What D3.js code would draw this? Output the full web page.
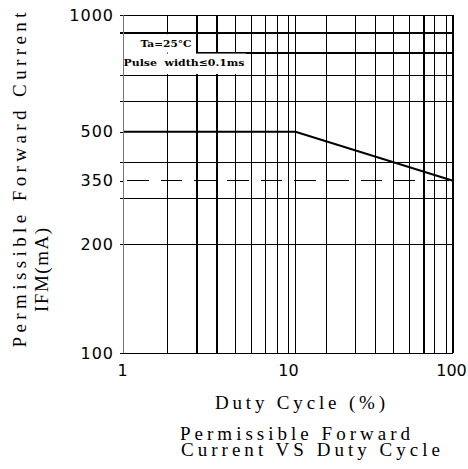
<!DOCTYPE html>
<html>
<head>
    <meta charset="utf-8">
    <title>Permissible Forward Current VS Duty Cycle</title>
    <script src="https://d3js.org/d3.v7.min.js"></script>
    <style>
        body {
            margin: 0;
            background: #fff;
        }

        .grid line {
            stroke: #000;
            stroke-width: 1;
            shape-rendering: crispEdges;
        }

        .grid line.thick {
            stroke-width: 2;
        }

        .axis path {
            display: none;
        }

        .axis line {
            stroke: #000;
            shape-rendering: crispEdges;
        }

        .axis text {
            font-family: "DejaVu Sans", sans-serif;
            font-size: 16px;
            fill: #000;
        }

        .axis.y text {
            letter-spacing: 1px;
        }

        .curve {
            fill: none;
            stroke: #000;
            stroke-width: 2;
        }

        .dash {
            stroke: #000;
            stroke-width: 1;
            stroke-dasharray: 21.7, 11.6;
            stroke-dashoffset: -4.4;
            shape-rendering: crispEdges;
        }

        .label {
            font-family: "Liberation Serif", serif;
            font-size: 19px;
            fill: #000;
        }

        .note {
            font-family: "DejaVu Serif", serif;
            font-size: 10px;
            font-weight: bold;
            fill: #000;
        }
    </style>
</head>
<body>
    <div id="chart"></div>

    <script>
        // values
        const xTicks = [1, 10, 100];
        const yTicks = [100, 200, 350, 500, 1000];
        const xGrid = [1.86, 2.8, 3.7, 4.8, 6.05, 7.35, 8.6, 10, 11.1, 17, 25.6, 33.8, 43.4, 54.3, 66.5, 76.8, 91.2];
        const xGridThick = [2.8, 3.7, 66.5];
        const yGrid = [200, 300, 400, 600, 700, 900];
        const yGridThick = [900];
        const curveDuty = [1, 11.1, 100];
        const curveCurrent = [500, 500, 350];
        const dashLevel = 350;

        const width = 468;
        const height = 469;
        const margin = {top: 15, right: 15, bottom: 116, left: 123};
        const innerWidth = width - margin.left - margin.right;
        const innerHeight = height - margin.top - margin.bottom;

        const svg = d3.select("#chart").append("svg")
            .attr("width", width)
            .attr("height", height);

        const g = svg.append("g")
            .attr("transform", `translate(${margin.left},${margin.top})`);

        const x = d3.scaleLog()
            .domain([1, 100])
            .range([0, innerWidth]);

        // the printed current axis is not evenly logarithmic, so map it piecewise
        const y = d3.scaleLog()
            .domain(yTicks)
            .range([innerHeight, innerHeight * 0.6784, innerHeight * 0.4902, innerHeight * 0.3453, 0]);

        // Grid
        const grid = g.append("g").attr("class", "grid");

        grid.selectAll(".vline")
            .data(xGrid)
            .enter()
            .append("line")
            .attr("class", d => xGridThick.includes(d) ? "vline thick" : "vline")
            .attr("x1", d => x(d))
            .attr("x2", d => x(d))
            .attr("y1", 0)
            .attr("y2", innerHeight);

        grid.selectAll(".hline")
            .data(yGrid)
            .enter()
            .append("line")
            .attr("class", d => yGridThick.includes(d) ? "hline thick" : "hline")
            .attr("x1", -3)
            .attr("x2", innerWidth)
            .attr("y1", d => y(d))
            .attr("y2", d => y(d));

        // ledge under the Ta box
        grid.append("line")
            .attr("class", "thick")
            .attr("x1", x(2.8))
            .attr("x2", innerWidth)
            .attr("y1", y(800))
            .attr("y2", y(800));

        // blank the note area
        g.append("rect")
            .attr("x", 1)
            .attr("y", y(900) + 1.5)
            .attr("width", x(2.8) - 2)
            .attr("height", y(800) - y(900) - 1.5)
            .attr("fill", "#fff");

        g.append("rect")
            .attr("x", 1)
            .attr("y", y(800) + 1)
            .attr("width", x(5.5))
            .attr("height", y(700) - y(800) - 2)
            .attr("fill", "#fff");

        grid.append("line")
            .attr("class", "thick")
            .attr("x1", x(3.7))
            .attr("x2", x(3.7))
            .attr("y1", 0)
            .attr("y2", innerHeight);

        g.append("text")
            .attr("class", "note")
            .attr("x", 17.5)
            .attr("y", 31.5)
            .attr("textLength", 51)
            .attr("lengthAdjust", "spacingAndGlyphs")
            .text("Ta=25°C");

        g.append("text")
            .attr("class", "note")
            .attr("x", 0.5)
            .attr("y", 50.5)
            .attr("textLength", 121)
            .attr("lengthAdjust", "spacingAndGlyphs")
            .attr("xml:space", "preserve")
            .text("Pulse  width≤0.1ms");

        // 350 mA reference
        g.append("line")
            .attr("class", "dash")
            .attr("x1", x(1))
            .attr("x2", x(100))
            .attr("y1", y(dashLevel))
            .attr("y2", y(dashLevel));

        // derating curve
        const line = d3.line()
            .x(d => x(d[0]))
            .y(d => y(d[1]));

        g.append("path")
            .datum(d3.zip(curveDuty, curveCurrent))
            .attr("class", "curve")
            .attr("d", line);

        // Frame
        g.append("line")
            .attr("x1", 0).attr("x2", innerWidth)
            .attr("y1", 0).attr("y2", 0)
            .attr("stroke", "#000")
            .attr("shape-rendering", "crispEdges");

        g.append("line")
            .attr("x1", 0).attr("x2", innerWidth)
            .attr("y1", innerHeight).attr("y2", innerHeight)
            .attr("stroke", "#000")
            .attr("shape-rendering", "crispEdges");

        g.append("line")
            .attr("x1", 0).attr("x2", 0)
            .attr("y1", 0).attr("y2", innerHeight)
            .attr("stroke", "#777")
            .attr("shape-rendering", "crispEdges");

        g.append("line")
            .attr("x1", innerWidth).attr("x2", innerWidth)
            .attr("y1", 0).attr("y2", innerHeight)
            .attr("stroke", "#000")
            .attr("stroke-width", 2)
            .attr("shape-rendering", "crispEdges");

        // Axes
        g.append("g")
            .attr("class", "axis y")
            .call(d3.axisLeft(y)
                .tickValues(yTicks)
                .tickFormat(d3.format("d"))
                .tickSize(3)
                .tickSizeOuter(0)
                .tickPadding(6));

        g.append("g")
            .attr("class", "axis x")
            .attr("transform", `translate(0,${innerHeight})`)
            .call(d3.axisBottom(x)
                .tickValues(xTicks)
                .tickFormat(d3.format("d"))
                .tickSize(0)
                .tickPadding(12))
            .selectAll("text")
            .attr("dx", d => d === 100 ? "-2" : d === 1 ? "-1" : "0");

        // Labels
        svg.append("text")
            .attr("class", "label")
            .attr("x", 215)
            .attr("y", 409)
            .attr("textLength", 170)
            .attr("lengthAdjust", "spacing")
            .text("Duty Cycle (%)");

        svg.append("text")
            .attr("class", "label")
            .attr("x", 180)
            .attr("y", 440)
            .attr("textLength", 230)
            .attr("lengthAdjust", "spacing")
            .text("Permissible Forward");

        svg.append("text")
            .attr("class", "label")
            .attr("x", 181)
            .attr("y", 456)
            .attr("textLength", 259)
            .attr("lengthAdjust", "spacing")
            .text("Current VS Duty Cycle");

        svg.append("text")
            .attr("class", "label")
            .attr("transform", "translate(26,180) rotate(-90)")
            .attr("text-anchor", "middle")
            .attr("textLength", 335)
            .attr("lengthAdjust", "spacing")
            .text("Permissible Forward Current");

        svg.append("text")
            .attr("class", "label")
            .attr("transform", "translate(48,270) rotate(-90)")
            .attr("text-anchor", "middle")
            .attr("textLength", 84)
            .attr("lengthAdjust", "spacing")
            .text("IFM(mA)");
    </script>
</body>
</html>
